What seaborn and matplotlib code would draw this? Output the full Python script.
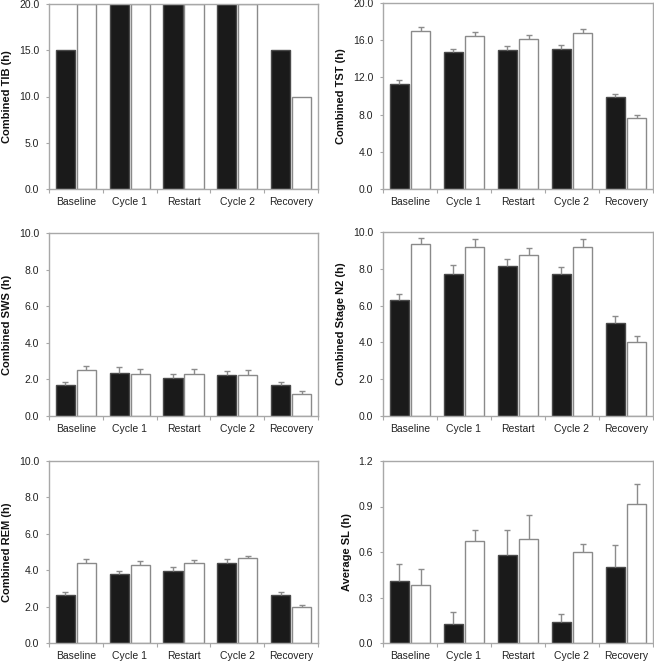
import matplotlib
matplotlib.use('Agg')
import matplotlib.pyplot as plt
import seaborn as sns
import pandas as pd
from matplotlib.ticker import FixedLocator, FormatStrFormatter

phases = ['Baseline', 'Cycle 1', 'Restart', 'Cycle 2', 'Recovery']
groups = ['Group 1', 'Group 2']

# bar heights (h) for each panel, first group (black) and second group (white)
tib_g1 = [15.0, 20.0, 20.0, 20.0, 15.0]
tib_g2 = [20.0, 20.0, 20.0, 20.0, 10.0]

tst_g1 = [11.3, 14.7, 14.9, 15.1, 9.9]
tst_g2 = [17.0, 16.5, 16.1, 16.8, 7.6]
tst_se1 = [0.4, 0.4, 0.45, 0.4, 0.35]
tst_se2 = [0.4, 0.4, 0.5, 0.4, 0.33]

sws_g1 = [1.67, 2.37, 2.07, 2.24, 1.71]
sws_g2 = [2.51, 2.31, 2.31, 2.26, 1.19]
sws_se1 = [0.2, 0.33, 0.24, 0.24, 0.16]
sws_se2 = [0.24, 0.28, 0.26, 0.27, 0.19]

n2_g1 = [6.28, 7.74, 8.15, 7.71, 5.08]
n2_g2 = [9.36, 9.21, 8.77, 9.21, 4.04]
n2_se1 = [0.33, 0.48, 0.4, 0.4, 0.37]
n2_se2 = [0.29, 0.42, 0.37, 0.39, 0.33]

rem_g1 = [2.61, 3.78, 3.96, 4.42, 2.61]
rem_g2 = [4.42, 4.29, 4.38, 4.65, 1.96]
rem_se1 = [0.19, 0.2, 0.21, 0.2, 0.19]
rem_se2 = [0.2, 0.19, 0.2, 0.15, 0.15]

sl_g1 = [0.41, 0.123, 0.58, 0.14, 0.504]
sl_g2 = [0.385, 0.67, 0.683, 0.602, 0.917]
sl_se1 = [0.11, 0.083, 0.162, 0.048, 0.142]
sl_se2 = [0.105, 0.077, 0.164, 0.053, 0.132]

panels = [
    ('Combined TIB (h)', tib_g1, tib_g2, None, None, [0, 5, 10, 15, 20]),
    ('Combined TST (h)', tst_g1, tst_g2, tst_se1, tst_se2, [0, 4, 8, 12, 16, 20]),
    ('Combined SWS (h)', sws_g1, sws_g2, sws_se1, sws_se2, [0, 2, 4, 6, 8, 10]),
    ('Combined Stage N2 (h)', n2_g1, n2_g2, n2_se1, n2_se2, [0, 2, 4, 6, 8, 10]),
    ('Combined REM (h)', rem_g1, rem_g2, rem_se1, rem_se2, [0, 2, 4, 6, 8, 10]),
    ('Average SL (h)', sl_g1, sl_g2, sl_se1, sl_se2, [0, 0.3, 0.6, 0.9, 1.2]),
]

sns.set_theme(style='white')
plt.rcParams['font.family'] = ['Liberation Sans', 'DejaVu Sans']

fig = plt.figure(figsize=(6.54, 6.62), dpi=100)

# axes boxes in pixels: (left, top, right, bottom)
boxes = [
    (49, 4, 318, 189), (383, 3, 653, 189),
    (49, 233, 318, 416), (383, 232, 653, 416),
    (49, 461, 318, 643), (383, 461, 653, 643),
]

spine_col = '#a8a8a8'
err_col = '#8c8c8c'

for (label, g1, g2, se1, se2, yticks), (l, t, r, b) in zip(panels, boxes):
    ax = fig.add_axes([l / 654, 1 - b / 662, (r - l) / 654, (b - t) / 662])
    df = pd.DataFrame({
        'phase': phases * 2,
        'group': [groups[0]] * 5 + [groups[1]] * 5,
        'value': g1 + g2,
    })
    sns.barplot(data=df, x='phase', y='value', hue='group', order=phases,
                hue_order=groups, palette={groups[0]: '#1a1a1a', groups[1]: 'white'},
                width=0.78, gap=0.08, errorbar=None, legend=False, ax=ax,
                linewidth=1)

    for cont, ecol in zip(ax.containers, ['#4a4a4a', '#8a8a8a']):
        for bar in cont:
            bar.set_edgecolor(ecol)

    if se1 is not None:
        for cont, errs in zip(ax.containers, [se1, se2]):
            for bar, e in zip(cont, errs):
                x = bar.get_x() + bar.get_width() / 2
                y = bar.get_height()
                ax.vlines(x, y, y + e, color=err_col, lw=1, zorder=3)
                ax.plot([x], [y + e], marker='_', ms=5, mew=1, color=err_col, zorder=3)

    ax.set_ylim(yticks[0], yticks[-1])
    ax.set_xlim(-0.5, 4.5)
    ax.yaxis.set_major_locator(FixedLocator(yticks))
    ax.yaxis.set_major_formatter(FormatStrFormatter('%.1f'))
    ax.xaxis.set_minor_locator(FixedLocator([-0.5, 0.5, 1.5, 2.5, 3.5, 4.5]))
    ax.tick_params(axis='x', which='major', length=0, pad=6, labelsize=7.5, labelcolor='#222222')
    ax.tick_params(axis='x', which='minor', bottom=True, length=3, width=0.8, color=spine_col, direction='out')
    ax.tick_params(axis='y', left=True, length=2, width=0.8, color=spine_col, pad=5,
                   labelsize=7.5, labelcolor='#222222')
    ax.set_xlabel('')
    ax.set_ylabel(label, fontsize=8, fontweight='bold', color='#111111', labelpad=5)
    for sp in ax.spines.values():
        sp.set_color(spine_col)
        sp.set_linewidth(1)

fig.savefig('out.png', dpi=100)
